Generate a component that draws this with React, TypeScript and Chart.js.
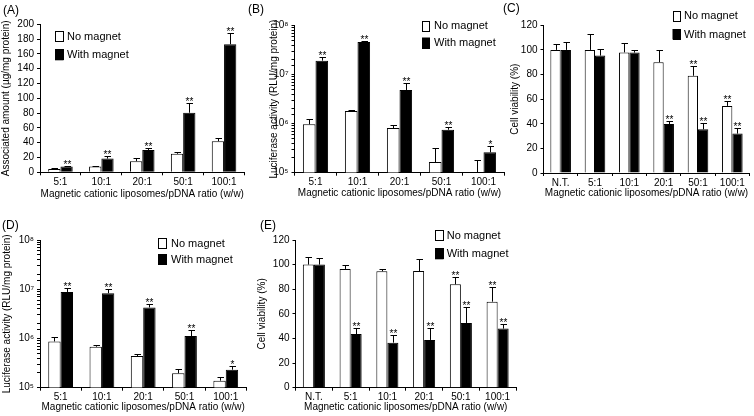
import React, { useEffect, useRef } from 'react';
import { Chart, registerables } from 'chart.js';

Chart.register(...registerables);

const FONT = '"Liberation Sans", Arial, sans-serif';

// ---------- data ----------
const seriesLabels = ['No magnet', 'With magnet'];
const ratioCats = ['5:1', '10:1', '20:1', '50:1', '100:1'];
const viabilityCats = ['N.T.', '5:1', '10:1', '20:1', '50:1', '100:1'];
const xTitle = 'Magnetic cationic liposomes/pDNA ratio (w/w)';

// (A) associated amount
const aNoMagnet = [4.5, 7.7, 15, 25, 42];
const aNoMagnetErrTop = [5.9, 8.5, 19, 27.5, 46];
const aWithMagnet = [7.7, 18.5, 30, 80.5, 173];
const aWithMagnetErrTop = [9, 22.5, 32.5, 94, 188];
const aNoStars = ['', '', '', '', ''];
const aWithStars = ['**', '**', '**', '**', '**'];

// (B) luciferase activity
const bNoMagnet = [9.7e5, 1.8e6, 8.1e5, 1.65e5, null];
const bNoMagnetErrTop = [1.22e6, 1.93e6, 9.6e5, 3.2e5, 1.78e5];
const bWithMagnet = [1.92e7, 4.6e7, 4.85e6, 7.5e5, 2.6e5];
const bWithMagnetErrTop = [2.32e7, 4.85e7, 6.6e6, 8.6e5, 3.5e5];
const bNoStars = ['', '', '', '', ''];
const bWithStars = ['**', '**', '**', '**', '*'];

// (C) cell viability
const cNoMagnet = [100, 100, 98, 90, 79, 54.5];
const cNoMagnetErrTop = [104.9, 113, 105.7, 99.7, 86.7, 58.5];
const cWithMagnet = [100, 95.4, 97.8, 39.8, 35.5, 32];
const cWithMagnetErrTop = [106.8, 101, 100.3, 42.3, 40.6, 36.6];
const cNoStars = ['', '', '', '', '**', '**'];
const cWithStars = ['', '', '', '**', '**', '**'];

// (D) luciferase activity
const dNoMagnet = [8.7e5, 6.8e5, 4.4e5, 1.96e5, 1.39e5];
const dNoMagnetErrTop = [1.05e6, 7.3e5, 4.8e5, 2.39e5, 1.62e5];
const dWithMagnet = [8.8e6, 8.3e6, 4.27e6, 1.12e6, 2.32e5];
const dWithMagnetErrTop = [1.08e7, 1.0e7, 5.0e6, 1.48e6, 2.72e5];
const dNoStars = ['', '', '', '', ''];
const dWithStars = ['**', '**', '**', '**', '*'];

// (E) cell viability
const eNoMagnet = [100, 96.5, 94.6, 94.8, 84, 69.9];
const eNoMagnetErrTop = [106, 100, 96.2, 104.9, 90.2, 81.8];
const eWithMagnet = [100, 43.6, 36.6, 38.8, 52.6, 48];
const eWithMagnetErrTop = [105.4, 48.5, 42.5, 48.5, 65.6, 51.8];
const eNoStars = ['', '', '', '', '**', '**'];
const eWithStars = ['', '**', '**', '**', '**', '**'];

const sup: Record<string, string> = { '0': '⁰', '1': '¹', '2': '²', '3': '³', '4': '⁴', '5': '⁵', '6': '⁶', '7': '⁷', '8': '⁸', '9': '⁹' };

// ---------- panel layout ----------
const panels = [
  {
    label: '(A)', labelX: 3, labelY: 11,
    left: 0, top: 0, width: 250, height: 205,
    yAxisWidth: 40, plotTop: 24.3, padRight: 5.5, xAxisHeight: 32.7,
    yTitlePad: 0, xTitlePad: 4.7,
    cats: ratioCats, yTitle: 'Associated amount (µg/mg protein)',
    yType: 'linear', yMin: 0, yMax: 200, yStep: 20,
    no: aNoMagnet, noTop: aNoMagnetErrTop, noStars: aNoStars,
    wi: aWithMagnet, wiTop: aWithMagnetErrTop, wiStars: aWithStars,
    legX: 55, legY: [30.5, 49.3], legW: 8.5, legH: 11, legTextX: 67,
  },
  {
    label: '(B)', labelX: 3, labelY: 10,
    left: 245, top: 0, width: 260, height: 205,
    yAxisWidth: 49.5, plotTop: 25.5, padRight: 0.5, xAxisHeight: 32.3,
    yTitlePad: 23, xTitlePad: 5.7,
    cats: ratioCats, yTitle: 'Luciferase activity (RLU/mg protein)',
    yType: 'logarithmic', yMin: 1e5, yMax: 1e8, yStep: 0,
    no: bNoMagnet, noTop: bNoMagnetErrTop, noStars: bNoStars,
    wi: bWithMagnet, wiTop: bWithMagnetErrTop, wiStars: bWithStars,
    legX: 177, legY: [20.5, 37.5], legW: 8, legH: 10.5, legTextX: 189,
  },
  {
    label: '(C)', labelX: 3, labelY: 9,
    left: 500, top: 0, width: 254, height: 205,
    yAxisWidth: 43.5, plotTop: 25.3, padRight: 4.5, xAxisHeight: 32,
    yTitlePad: 9, xTitlePad: 5.7,
    cats: viabilityCats, yTitle: 'Cell viability (%)',
    yType: 'linear', yMin: 0, yMax: 120, yStep: 20,
    no: cNoMagnet, noTop: cNoMagnetErrTop, noStars: cNoStars,
    wi: cWithMagnet, wiTop: cWithMagnetErrTop, wiStars: cWithStars,
    legX: 172.5, legY: [10.5, 29], legW: 8, legH: 10.5, legTextX: 184,
  },
  {
    label: '(D)', labelX: 2, labelY: 20.8,
    left: 0, top: 205, width: 255, height: 211,
    yAxisWidth: 40, plotTop: 35, padRight: 8.6, xAxisHeight: 28.3,
    yTitlePad: 1, xTitlePad: 2.7,
    cats: ratioCats, yTitle: 'Luciferase activity (RLU/mg protein)',
    yType: 'logarithmic', yMin: 1e5, yMax: 1e8, yStep: 0,
    no: dNoMagnet, noTop: dNoMagnetErrTop, noStars: dNoStars,
    wi: dWithMagnet, wiTop: dWithMagnetErrTop, wiStars: dWithStars,
    legX: 158.3, legY: [33.3, 49.3], legW: 8.5, legH: 10.5, legTextX: 171,
  },
  {
    label: '(E)', labelX: 5, labelY: 20.5,
    left: 255, top: 205, width: 265, height: 211,
    yAxisWidth: 40.5, plotTop: 35, padRight: 4, xAxisHeight: 28.3,
    yTitlePad: 1.3, xTitlePad: 2.3,
    cats: viabilityCats, yTitle: 'Cell viability (%)',
    yType: 'linear', yMin: 0, yMax: 120, yStep: 20,
    no: eNoMagnet, noTop: eNoMagnetErrTop, noStars: eNoStars,
    wi: eWithMagnet, wiTop: eWithMagnetErrTop, wiStars: eWithStars,
    legX: 180, legY: [25, 43.3], legW: 8.5, legH: 11, legTextX: 191.7,
  },
];

function makeChart(canvas: HTMLCanvasElement, p: any) {
  const errTops = [p.noTop, p.wiTop];
  const stars = [p.noStars, p.wiStars];
  const decor = {
    id: 'decor',
    afterDatasetsDraw(chart: any) {
      const ctx = chart.ctx;
      const ys = chart.scales.y;
      ctx.save();
      ctx.strokeStyle = '#000';
      ctx.fillStyle = '#000';
      ctx.lineWidth = 1;
      chart.data.datasets.forEach((ds: any, i: number) => {
        const meta = chart.getDatasetMeta(i);
        meta.data.forEach((el: any, j: number) => {
          const v = ds.data[j];
          const x = Math.round(el.x) + 0.5;
          const yb = ys.getPixelForValue(v == null ? ys.min : v);
          const yt = Math.round(ys.getPixelForValue(errTops[i][j])) + 0.5;
          ctx.beginPath();
          ctx.moveTo(x, yb);
          ctx.lineTo(x, yt);
          ctx.moveTo(x - 3, yt);
          ctx.lineTo(x + 3.5, yt);
          ctx.stroke();
          if (stars[i][j]) {
            ctx.font = `10px ${FONT}`;
            ctx.textAlign = 'center';
            ctx.textBaseline = 'alphabetic';
            ctx.fillText(stars[i][j], x, yt + 1);
          }
        });
      });
      ctx.restore();
    },
    afterDraw(chart: any) {
      const ctx = chart.ctx;
      ctx.save();
      chart.data.datasets.forEach((ds: any, i: number) => {
        const by = p.legY[i];
        ctx.fillStyle = ds.backgroundColor;
        ctx.fillRect(p.legX, by, p.legW, p.legH);
        ctx.strokeStyle = '#000';
        ctx.lineWidth = 1;
        ctx.strokeRect(Math.round(p.legX) + 0.5, Math.round(by) + 0.5, Math.round(p.legW) - 1, Math.round(p.legH) - 1);
        ctx.fillStyle = '#000';
        ctx.font = `11px ${FONT}`;
        ctx.textAlign = 'left';
        ctx.textBaseline = 'middle';
        ctx.fillText(ds.label, p.legTextX, by + p.legH / 2 + 0.5);
      });
      ctx.font = `12px ${FONT}`;
      ctx.fillStyle = '#000';
      ctx.textAlign = 'left';
      ctx.textBaseline = 'middle';
      ctx.fillText(p.label, p.labelX, p.labelY);
      ctx.restore();
    },
  };

  const isLog = p.yType === 'logarithmic';
  const tickFont = { family: FONT, size: 10 };

  return new Chart(canvas, {
    type: 'bar',
    data: {
      labels: p.cats,
      datasets: [
        { label: seriesLabels[0], data: p.no, backgroundColor: '#ffffff', borderColor: '#000000', borderWidth: 1 },
        { label: seriesLabels[1], data: p.wi, backgroundColor: '#000000', borderColor: '#000000', borderWidth: 1 },
      ],
    },
    plugins: [decor],
    options: {
      animation: false,
      responsive: false,
      devicePixelRatio: 1,
      events: [],
      layout: { padding: { left: 0, top: p.plotTop, right: p.padRight, bottom: 0 } },
      datasets: { bar: { categoryPercentage: 0.6, barPercentage: 1.0 } },
      plugins: { legend: { display: false }, tooltip: { enabled: false }, title: { display: false } },
      scales: {
        x: {
          type: 'category',
          offset: true,
          grid: { display: true, drawOnChartArea: false, drawTicks: true, tickLength: 3, color: '#000', offset: true },
          border: { display: true, color: '#000', width: 1 },
          ticks: { color: '#000', font: tickFont, padding: 1, maxRotation: 0, autoSkip: false },
          title: { display: true, text: xTitle, color: '#000', font: tickFont, padding: { top: 0, bottom: p.xTitlePad } },
          afterFit: (s: any) => { s.height = p.xAxisHeight; },
        },
        y: {
          type: p.yType,
          min: p.yMin,
          max: p.yMax,
          grid: { display: true, drawOnChartArea: false, drawTicks: true, tickLength: 3, color: '#000' },
          border: { display: true, color: '#000', width: 1 },
          ticks: isLog
            ? {
                color: '#000', font: tickFont, padding: 3, autoSkip: false,
                callback: (v: any) => {
                  const l = Math.log10(Number(v));
                  if (Math.abs(l - Math.round(l)) < 1e-9) {
                    return '10' + String(Math.round(l)).split('').map((c) => sup[c]).join('');
                  }
                  return '';
                },
              }
            : { color: '#000', font: tickFont, padding: 3, stepSize: p.yStep, autoSkip: false },
          title: { display: true, text: p.yTitle, color: '#000', font: tickFont, padding: { top: p.yTitlePad, bottom: 0 } },
          afterFit: (s: any) => { s.width = p.yAxisWidth; },
        },
      },
    } as any,
  });
}

export default function App() {
  const refs = useRef<(HTMLCanvasElement | null)[]>([]);
  useEffect(() => {
    const charts = panels.map((p, i) => makeChart(refs.current[i] as HTMLCanvasElement, p));
    return () => charts.forEach((c) => c.destroy());
  }, []);
  return (
    <div style={{ position: 'absolute', left: 0, top: 0, width: 754, height: 416, background: '#fff', overflow: 'hidden' }}>
      {panels.map((p, i) => (
        <canvas
          key={i}
          ref={(el) => { refs.current[i] = el; }}
          width={p.width}
          height={p.height}
          style={{ position: 'absolute', left: p.left, top: p.top, width: p.width, height: p.height }}
        />
      ))}
    </div>
  );
}
